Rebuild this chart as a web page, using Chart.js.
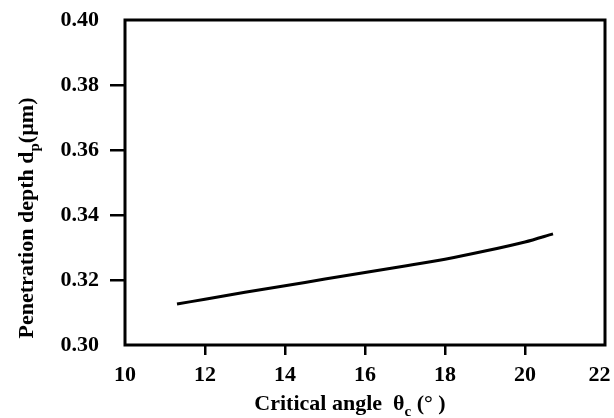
<!DOCTYPE html>
<html>
<head>
<meta charset="utf-8">
<script src="https://cdn.jsdelivr.net/npm/chart.js@4"></script>
<style>
  html, body { margin: 0; padding: 0; background: #fff; }
  #wrap { width: 614px; height: 418px; }
</style>
</head>
<body>
<div id="wrap"><canvas id="myChart" width="614" height="418"></canvas></div>
<script>
// critical angle (deg) vs penetration depth (um)
var angles = [11.3, 12, 13, 14, 15, 16, 17, 18, 19, 20, 20.7];
var depths = [0.3126, 0.3141, 0.3162, 0.3182, 0.3203, 0.3223, 0.3243, 0.3264, 0.3289, 0.3317, 0.3342];
var xTicks = [10, 12, 14, 16, 18, 20, 22];
var yTicks = [0.30, 0.32, 0.34, 0.36, 0.38, 0.40];

var serif = '"Liberation Serif", "Times New Roman", serif';

// ticks only between the corners of the frame
function tickColor(ctx){
    var n = ctx.scale.ticks.length;
    if (ctx.index === 0 || ctx.index === n - 1) return 'rgba(0,0,0,0)';
    return '#000';
}

// draws a run of [text, font, dy] pieces starting at x
function drawParts(c, parts, x, y){
    parts.forEach(function(p){
        c.font = p[1];
        c.fillText(p[0], x, y + p[2]);
        x += c.measureText(p[0]).width;
    });
}
function partsWidth(c, parts){
    var w = 0;
    parts.forEach(function(p){ c.font = p[1]; w += c.measureText(p[0]).width; });
    return w;
}

// frame around the plot + axis titles with subscripts
var framePlugin = {
    id: 'frame',
    afterDatasetsDraw: function(chart){
        var c = chart.ctx, a = chart.chartArea;
        c.save();
        c.strokeStyle = '#000';
        c.lineWidth = 3;
        c.strokeRect(a.left, a.top, a.right - a.left, a.bottom - a.top);

        c.fillStyle = '#000';
        c.textAlign = 'left';
        c.textBaseline = 'alphabetic';

        var big = 'bold 22px ' + serif, small = 'bold 15px ' + serif;

        // x title
        var parts = [['Critical angle  \u03b8', big, 0], ['c', small, 6], [' (\u00b0 )', big, 0]];
        var w = partsWidth(c, parts);
        drawParts(c, parts, 350 - w / 2, 410);

        // y title, rotated
        var yparts = [['Penetration depth d', big, 0], ['p', small, 6], ['(\u00b5m)', big, 0]];
        w = partsWidth(c, yparts);
        c.translate(33, 218);
        c.rotate(-Math.PI / 2);
        drawParts(c, yparts, -w / 2, 0);
        c.restore();
    }
};

var points = angles.map(function(a, i){ return { x: a, y: depths[i] }; });

new Chart(document.getElementById('myChart').getContext('2d'), {
    type: 'line',
    data: {
        datasets: [{
            data: points,
            borderColor: '#000',
            borderWidth: 3,
            pointRadius: 0,
            tension: 0.3,
            fill: false
        }]
    },
    options: {
        responsive: false,
        animation: false,
        layout: { padding: { top: 20, right: 9, left: 0, bottom: 0 } },
        plugins: { legend: { display: false }, tooltip: { enabled: false } },
        scales: {
            x: {
                type: 'linear',
                min: 10, max: 22,
                afterBuildTicks: function(s){ s.ticks = xTicks.map(function(v){ return { value: v }; }); },
                afterFit: function(s){ s.height = 73; s.paddingLeft = 0; s.paddingRight = 0; },
                border: { display: false },
                grid: { drawOnChartArea: false, drawTicks: true, tickLength: 10, lineWidth: 2.5, color: tickColor },
                ticks: {
                    color: '#000', padding: 7,
                    font: { family: serif, size: 22, weight: 'bold' },
                    maxRotation: 0,
                    // pull the last label in from the canvas edge
                    callback: function(v, i, all){ return i === all.length - 1 ? v + '\u2002' : String(v); }
                }
            },
            y: {
                type: 'linear',
                min: 0.30, max: 0.40,
                afterBuildTicks: function(s){ s.ticks = yTicks.map(function(v){ return { value: v }; }); },
                afterFit: function(s){ s.width = 125; s.paddingTop = 0; s.paddingBottom = 0; },
                border: { display: false },
                grid: { drawOnChartArea: false, drawTicks: true, tickLength: 15, lineWidth: 2.5, color: tickColor },
                ticks: {
                    color: '#000', padding: 11,
                    font: { family: serif, size: 22, weight: 'bold' },
                    callback: function(v){ return v.toFixed(2); }
                }
            }
        }
    },
    plugins: [framePlugin]
});
</script>
</body>
</html>
